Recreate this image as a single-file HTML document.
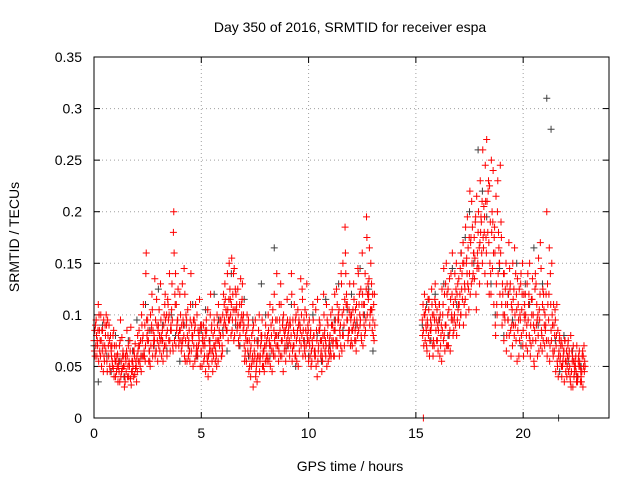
<!DOCTYPE html>
<html><head><meta charset="utf-8"><style>
html,body{margin:0;padding:0;background:#fff;}
svg{display:block;font-family:"Liberation Sans",sans-serif;}
</style></head><body>
<svg id="chart" width="640" height="480" viewBox="0 0 640 480">
<rect x="0" y="0" width="640" height="480" fill="#fff"/>
<text x="350" y="32" font-size="14" text-anchor="middle">Day 350 of 2016, SRMTID for receiver espa</text>
<text x="19" y="237" font-size="14" text-anchor="middle" transform="rotate(-90 19 237)">SRMTID / TECUs</text>
<text x="350" y="471" font-size="14" text-anchor="middle">GPS time / hours</text>
<g id="grid"></g>
<g id="ticks"></g>
<g id="black"></g>
<g id="red"></g>
<rect x="94" y="57" width="515" height="361" fill="none" stroke="#000" stroke-width="1"/>
</svg>
<script>
const xTicks=[0,5,10,15,20];
const yTicks=[0,0.05,0.1,0.15,0.2,0.25,0.3,0.35];
const yTickLabels=["0","0.05","0.1","0.15","0.2","0.25","0.3","0.35"];
const startA=0, startB=15.3;
const redA1=[75,95,110,60,85,70,55,90,65,48,40,62,35,78,50,45,70,38,55,42,60,85,45,110,70,95,55,120,80,65,90,130,75,110,60,100,85,180,140,95,120,70,145,90,60,110,80,55,100,75,65,90,45,105,70,55,95,60,110,80,100,130,85,150,110,140,95,125,80,115,70,55,95,40,85,60,35,100,75,50,90,60,110,45,120,80,55,130,95,70,115,75,140,85,60,105,90,125,70,100,55,85,110,65,40,95,75,120,60,90,80,105,60,125,95,70,150,185,110,85,100,130,75,145,90,160,110,195,120,150,95];
const redA2=[65,80,55,100,70,90,45,75,60,85,55,35,75,48,30,65,40,88,50,72,45,70,100,60,140,85,50,105,75,115,70,95,55,120,85,140,105,200,70,125,85,130,60,95,75,140,50,90,65,115,90,55,80,40,100,65,85,50,75,95,80,115,140,95,155,75,120,100,90,130,55,85,45,70,30,95,60,45,80,65,70,100,50,95,75,140,65,110,45,85,95,60,120,70,100,50,85,115,65,130,75,50,95,60,115,85,45,100,70,55,65,90,120,75,105,140,80,160,95,130,85,115,65,140,95,120,80,175,135,105,80];
const redA3=[85,60,100,75,45,80,95,50,70,40,70,50,95,60,40,85,55,32,65,48,80,55,90,65,160,75,100,60,135,90,105,80,65,95,115,75,130,160,110,80,100,75,120,55,85,65,95,110,60,85,50,75,95,60,120,45,70,100,85,60,120,90,105,125,85,145,105,75,135,95,60,100,75,50,90,40,70,55,95,45,60,85,70,105,60,95,110,75,100,55,80,95,55,110,75,90,135,60,105,80,95,65,80,105,55,90,60,80,110,65,100,70,85,110,60,130,105,140,75,100,70,95,110,85,125,70,140,100,165,130,110];
const redA4=[60,75,85,50,95,65,80,45,55,70,45,55,40,65,35,60,50,45,40,55,65,50,75,60,95,55,70,85,60,75,80,60,90,70,110,65,95,75,85,70,75,95,55,80,65,90,70,60,85,50,75,60,85,50,65,80,55,90,70,60,90,105,75,115,95,80,110,70,95,85,65,75,50,80,55,45,75,60,50,70,75,55,90,65,80,70,95,60,85,65,70,90,65,80,55,95,70,85,60,75,70,55,80,50,65,75,55,85,50,70,60,75,95,70,85,65,90,110,80,70,85,75,95,110,80,100,85,120,90,105,75];
const redA5=[90,70,65,85,60,100,70,80,50,60,60,45,55,50,60,40,75,55,65,50,55,75,60,90,80,65,85,70,95,55,65,75,100,80,95,85,70,120,90,75,65,90,75,105,55,80,95,65,70,90,80,70,60,75,85,60,65,75,95,70,110,85,95,100,120,105,85,90,110,100,80,65,60,55,65,50,85,70,60,80,55,75,80,60,95,70,85,75,65,90,85,70,95,60,80,65,100,75,85,90,60,75,65,85,70,60,80,65,95,75,90,60,75,95,80,100,70,120,85,95,105,85,90,120,75,110,95,130,100,85,120];
const redA6=[70,85,75,65,55,90,60,70,80,55,50,70,45,60,55,50,65,45,60,35,70,60,80,55,75,65,90,75,65,85,75,85,70,100,75,90,65,110,95,85,90,80,100,70,95,75,85,70,80,65,70,85,55,65,90,70,75,55,80,65,95,100,115,80,105,125,90,110,100,90,75,90,65,60,75,55,60,80,65,55,80,70,65,85,70,80,60,90,80,75,90,80,70,95,85,75,80,95,70,85,80,70,60,75,85,65,70,75,80,60,75,85,70,100,90,80,115,95,105,75,90,105,80,100,110,90,125,115,105,120,90];
const redB1=[95,120,70,105,85,60,130,75,110,55,145,90,125,65,160,100,80,135,100,170,115,195,140,210,160,120,180,230,150,195,270,170,120,240,90,200,150,110,75,150,95,130,70,165,105,60,140,85,120,65,150,100,55,130,80,170,110,70,200,120,85,60,95,50,80,40,65,55,75,35,60,45,70,50,40,60];
const redB2=[80,100,65,115,90,75,110,90,60,125,80,150,70,115,95,140,120,110,160,90,185,130,220,150,175,105,200,180,260,140,210,120,250,160,80,230,120,90,140,65,120,85,150,100,55,125,80,60,100,140,75,115,50,90,155,70,125,100,60,165,75,110,45,85,55,70,35,65,45,80,30,55,40,65,35,50];
const redB3=[110,75,95,60,125,100,85,65,100,85,120,70,105,140,80,115,95,90,125,150,100,165,120,185,135,215,145,195,175,245,130,225,180,110,215,140,245,130,100,80,170,60,115,90,135,75,105,120,70,95,60,135,85,110,65,145,75,85,130,55,150,90,70,40,60,50,75,40,60,30,70,50,35,55,45,70];
const redB4=[85,105,90,75,110,70,95,85,70,100,65,120,80,95,110,90,130,120,140,110,150,125,170,135,155,145,165,190,165,210,180,150,200,175,130,180,160,120,95,130,80,110,90,140,85,100,120,100,80,110,90,75,125,95,105,85,120,90,110,70,100,65,80,60,70,55,75,50,65,45,55,60,40,50,60,45];
const redB5=[70,90,115,85,100,95,75,95,80,110,90,70,135,100,85,125,105,145,115,130,155,105,175,140,190,160,130,160,205,175,220,190,145,185,110,165,190,100,125,110,145,90,125,75,110,95,150,110,90,120,70,100,140,60,95,80,105,120,75,140,90,80,110,65,75,60,55,60,50,65,40,45,55,35,65,55];
const redB6=[100,85,80,95,70,115,105,110,90,75,130,100,85,120,95,150,110,100,150,125,140,175,130,160,195,150,170,210,180,160,230,140,190,160,100,150,175,140,110,95,125,105,80,120,95,130,70,95,130,80,115,90,75,100,120,65,90,75,95,110,65,105,55,75,50,65,45,70,40,55,50,35,60,45,30,50];
const blackA=[70,35,90,60,45,80,55,40,75,65,95,60,110,85,70,125,90,65,100,80,55,90,70,110,60,85,105,75,120,95,85,65,140,90,70,115,60,95,75,130,100,60,165,80,95,70,110,50,90,75,60,100,80,55,115,70,95,130,85,105,120,90,145,100,125,65];
const blackB=[90,110,75,120,95,130,80,145,110,160,175,200,150,260,220,195,130,100,145,80,120,95,150,70,130,110,165,90,130,310,280,75,45,80,55,65,40,50];
const extraRedT=[15.35], extraRedV=[0];
const extraBlackT=[21.65], extraBlackV=[0];

const NS="http://www.w3.org/2000/svg";
const X0=94,X1=609,Y0=418,Y1=57;
const sx=t=>X0+(t/24)*(X1-X0);
const sy=v=>Y0-(v/0.35)*(Y0-Y1);
function mk(tag,attrs,parent){const e=document.createElementNS(NS,tag);for(const k in attrs)e.setAttribute(k,attrs[k]);parent.appendChild(e);return e;}
const grid=document.getElementById('grid'),ticks=document.getElementById('ticks');
xTicks.forEach((t,i)=>{
  const x=sx(t);
  if(i>0){const l=mk('line',{x1:x,y1:Y0,x2:x,y2:Y1,stroke:'#a0a0a0','stroke-dasharray':'1,3'},grid);
  
  }
  mk('line',{x1:x,y1:Y0,x2:x,y2:Y0-6,stroke:'#000'},ticks);
  mk('line',{x1:x,y1:Y1,x2:x,y2:Y1+6,stroke:'#000'},ticks);
  const tx=mk('text',{x:x,y:Y0+20,'font-size':14,'text-anchor':'middle'},ticks);tx.textContent=String(t);
  
  
});
yTicks.forEach((v,i)=>{
  const y=sy(v);
  if(i>0&&i<yTicks.length-1){const l=mk('line',{x1:X0,y1:y,x2:X1,y2:y,stroke:'#a0a0a0','stroke-dasharray':'1,3'},grid);
  
  }
  mk('line',{x1:X0,y1:y,x2:X0+6,y2:y,stroke:'#000'},ticks);
  mk('line',{x1:X1,y1:y,x2:X1-6,y2:y,stroke:'#000'},ticks);
  const tx=mk('text',{x:X0-12,y:y+5,'font-size':14,'text-anchor':'end'},ticks);tx.textContent=yTickLabels[i];
  
  
});
function plus(g,t,v,color){
  const x=sx(t),y=sy(v);
  const p=mk('path',{d:`M${x-3.5},${y}H${x+3.5}M${x},${y-3.5}V${y+3.5}`,stroke:color,'stroke-width':1,fill:'none'},g);
  
  
}
function series(g,arr,start,step,color){arr.forEach((v,i)=>plus(g,start+i*step,v/1000,color));}
const gb=document.getElementById('black'),gr=document.getElementById('red');
series(gb,blackA,startA,0.2,'#404040');
series(gb,blackB,startB,0.2,'#404040');
extraBlackT.forEach((t,i)=>plus(gb,t,extraBlackV[i],'#404040'));
[redA1,redA2,redA3,redA4,redA5,redA6].forEach((a,k)=>series(gr,a,startA+k*0.017,0.1,'#ff0000'));
[redB1,redB2,redB3,redB4,redB5,redB6].forEach((a,k)=>series(gr,a,startB+k*0.017,0.1,'#ff0000'));
extraRedT.forEach((t,i)=>plus(gr,t,extraRedV[i],'#ff0000'));
</script>
</body></html>
